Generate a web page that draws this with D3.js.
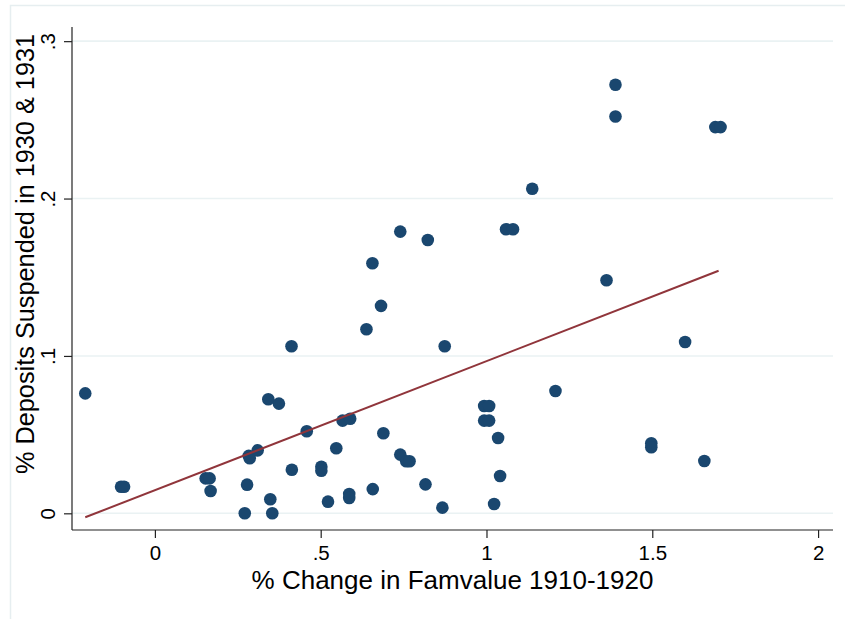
<!DOCTYPE html>
<html>
<head>
<meta charset="utf-8">
<script src="https://cdn.jsdelivr.net/npm/d3@7"></script>
<style>
html,body{margin:0;padding:0;background:#fff;}
svg{display:block;}
text{font-family:"Liberation Sans", Arial, Helvetica, sans-serif;fill:#000;}
</style>
</head>
<body>
<svg id="chart" width="845" height="619"></svg>
<script>
// ---- data ----
const farmChange = [-0.210,-0.102,-0.093,0.153,0.165,0.168,0.271,0.278,0.283,0.286,0.310,0.342,0.348,0.354,0.374,0.412,0.413,0.458,0.502,0.502,0.522,0.547,0.566,0.589,0.586,0.586,0.638,0.656,0.657,0.682,0.689,0.740,0.740,0.758,0.768,0.816,0.823,0.867,0.874,0.993,1.008,0.993,1.008,1.023,1.035,1.041,1.059,1.080,1.138,1.208,1.362,1.389,1.389,1.497,1.497,1.599,1.657,1.690,1.706];
const depositsSuspended = [0.0762,0.0169,0.0169,0.0222,0.0222,0.0142,0.0000,0.0182,0.0365,0.0350,0.0400,0.0725,0.0089,0.0000,0.0697,0.1062,0.0277,0.0521,0.0296,0.0270,0.0074,0.0413,0.0589,0.0601,0.0123,0.0097,0.1170,0.1589,0.0154,0.1318,0.0509,0.1790,0.0373,0.0331,0.0331,0.0184,0.1737,0.0036,0.1062,0.0682,0.0682,0.0589,0.0589,0.0059,0.0479,0.0237,0.1805,0.1805,0.2062,0.0777,0.1481,0.2723,0.2521,0.0445,0.0420,0.1089,0.0332,0.2454,0.2454];
const fitIntercept = 0.0147;
const fitSlope = 0.0820;
const xTicks = [0, 0.5, 1, 1.5, 2];
const xTickLabels = ["0", ".5", "1", "1.5", "2"];
const yTicks = [0, 0.1, 0.2, 0.3];
const yTickLabels = ["0", ".1", ".2", ".3"];
const xTitle = "% Change in Famvalue 1910-1920";
const yTitle = "% Deposits Suspended in 1930 & 1931";

// ---- layout ----
const svg = d3.select("#chart");
const plot = {left: 72, right: 833, top: 27, bottom: 530};
const x = d3.scaleLinear().domain([-0.25, 2.045]).range([plot.left, plot.right]);
const y = d3.scaleLinear().domain([-0.0106, 0.309]).range([plot.bottom, plot.top]);

// outer graph-region border
svg.append("rect").attr("x", 10.5).attr("y", 5.5).attr("width", 850).attr("height", 630)
  .attr("fill", "none").attr("stroke", "#e6eef0").attr("stroke-width", 1.5);

// gridlines
svg.append("g").selectAll("line").data(yTicks).join("line")
  .attr("x1", plot.left).attr("x2", plot.right)
  .attr("y1", d => y(d)).attr("y2", d => y(d))
  .attr("stroke", "#eaf2f3").attr("stroke-width", 1.6);

// axes
const xAxis = d3.axisBottom(x).tickValues(xTicks).tickSize(8).tickSizeOuter(0)
  .tickFormat((d, i) => xTickLabels[i]);
const gx = svg.append("g").attr("transform", `translate(0,${plot.bottom})`).call(xAxis);
gx.select(".domain").attr("stroke", "#222").attr("stroke-width", 1.2);
gx.selectAll(".tick line").attr("stroke", "#222").attr("stroke-width", 1.2);
gx.selectAll(".tick text").attr("font-size", 20.5).attr("dy", 0).attr("y", 30)
  .attr("font-family", "Liberation Sans, Arial, sans-serif").attr("fill", "#000");

const yAxis = d3.axisLeft(y).tickValues(yTicks).tickSize(8).tickSizeOuter(0)
  .tickFormat((d, i) => yTickLabels[i]);
const gy = svg.append("g").attr("transform", `translate(${plot.left},0)`).call(yAxis);
gy.select(".domain").attr("stroke", "#222").attr("stroke-width", 1.2);
gy.selectAll(".tick line").attr("stroke", "#222").attr("stroke-width", 1.2);
gy.selectAll(".tick text")
  .attr("font-size", 20.5).attr("x", null).attr("dy", 0)
  .attr("text-anchor", "middle")
  .attr("font-family", "Liberation Sans, Arial, sans-serif").attr("fill", "#000")
  .attr("transform", "translate(-17.5,0) rotate(-90)");
// domain paths span exactly the plot region
gx.select(".domain").attr("d", `M${plot.left},0H${plot.right}`);
gy.select(".domain").attr("d", `M0,${plot.top}V${plot.bottom}`);

// points
const pts = farmChange.map((v, i) => ({x: v, y: depositsSuspended[i]}));
svg.append("g").selectAll("circle").data(pts).join("circle")
  .attr("cx", d => x(d.x)).attr("cy", d => y(d.y)).attr("r", 6.3)
  .attr("fill", "#1a476f");

// linear fit line over the range of x
const [xmin, xmax] = d3.extent(farmChange);
const fit = [xmin, xmax - 0.006].map(v => ({x: v, y: fitIntercept + fitSlope * v}));
svg.append("path").datum(fit)
  .attr("d", d3.line().x(d => x(d.x)).y(d => y(d.y)))
  .attr("fill", "none").attr("stroke", "#90353b").attr("stroke-width", 2);

// axis titles
svg.append("text").attr("x", (plot.left + plot.right) / 2).attr("y", 588.5)
  .attr("text-anchor", "middle").attr("font-size", 26).text(xTitle);
svg.append("text").attr("transform", "translate(33.5,254) rotate(-90)")
  .attr("text-anchor", "middle").attr("font-size", 25.3).text(yTitle);
</script>
</body>
</html>
